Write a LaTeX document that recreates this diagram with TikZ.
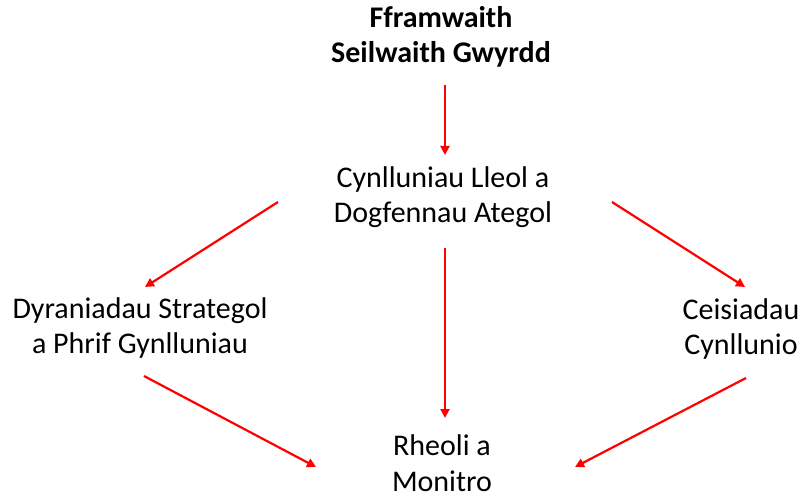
\documentclass[tikz,border=0pt]{standalone}
\usepackage{fontspec}
\setmainfont{Carlito}
\usetikzlibrary{arrows.meta}
\tikzset{
  lbl/.style={anchor=base, align=center, inner sep=0pt, text=black,
    font=\fontsize{30}{35.5}\selectfont},
  arr/.style={draw=red, line width=2.2pt, -{Triangle[length=9pt,width=9pt]}}
}
\begin{document}
\begin{tikzpicture}[x=1pt,y=-1pt]
\useasboundingbox[fill=white] (0,0) rectangle (804,497);
\node[lbl, font=\fontsize{30}{35.5}\selectfont\bfseries] (top) at (441,63) {Fframwaith\\Seilwaith Gwyrdd};
\node[lbl] (mid) at (443,223) {Cynlluniau Lleol a\\Dogfennau Ategol};
\node[lbl] (left) at (140,354) {Dyraniadau Strategol\\a Phrif Gynlluniau};
\node[lbl] (right) at (741,355) {Ceisiadau\\Cynllunio};
\node[lbl] (bot) at (442,491) {Rheoli a\\Monitro};
\draw[arr] ([shift={(4,22)}]top.base) -- ([shift={(2,-68)}]mid.base);
\draw[arr] ([shift={(-165,-21)}]mid.base) -- ([shift={(5,-67)}]left.base);
\draw[arr] ([shift={(169,-21)}]mid.base) -- ([shift={(4,-68)}]right.base);
\draw[arr] ([shift={(2,25)}]mid.base) -- ([shift={(3,-73)}]bot.base);
\draw[arr] ([shift={(4,22)}]left.base) -- ([shift={(-126,-24)}]bot.base);
\draw[arr] ([shift={(5,23)}]right.base) -- ([shift={(133,-24)}]bot.base);
\end{tikzpicture}
\end{document}
